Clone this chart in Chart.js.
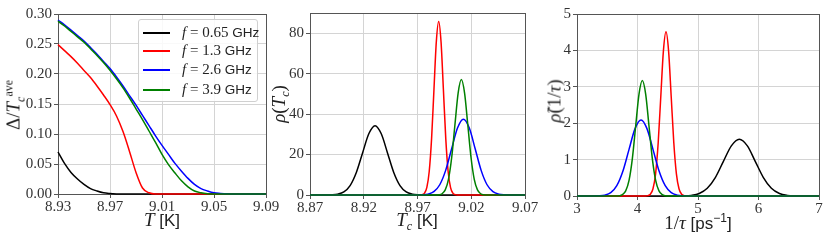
<!DOCTYPE html>
<html>
<head>
<meta charset="utf-8">
<script src="https://cdn.jsdelivr.net/npm/chart.js@4.4.1/dist/chart.umd.min.js"></script>
<style>
body{margin:0;background:#fff;width:830px;height:245px;position:relative;overflow:hidden;font-family:'Liberation Serif',serif;color:#222}
canvas{position:absolute;top:0}
.lbl{position:absolute;transform:translate(-50%,-50%);white-space:nowrap;font-size:19px;line-height:1}
.rot{transform:translate(-50%,-50%) rotate(-90deg)}
.sans{font-family:'Liberation Sans',sans-serif;font-size:17px}
sub,sup{font-size:12px;line-height:0}
.legend{position:absolute;left:138px;top:19px;width:120px;height:83px;box-sizing:border-box;border:1px solid #d0d0d0;border-radius:3px;background:rgba(255,255,255,0.85)}
.row{position:absolute;left:0;height:18px;width:118px;font-size:15px;line-height:17px}
.row b{position:absolute;left:4px;top:8px;width:27px;height:1.5px}
.row .txt{position:absolute;left:43px;top:0;white-space:nowrap;font-style:normal}
.row .sans{font-size:13.5px}
</style>
</head>
<body>
<canvas id="c1" width="280" height="245" style="left:0"></canvas>
<canvas id="c2" width="275" height="245" style="left:280px"></canvas>
<canvas id="c3" width="275" height="245" style="left:555px"></canvas>

<div class="lbl" style="left:162px;top:219px"><i>T</i> <span class="sans">[K]</span></div>
<div class="lbl rot" style="left:13px;top:105px">&Delta;/<i>T</i><sub><i>c</i></sub><sup>ave</sup></div>
<div class="lbl" style="left:417px;top:219px"><i>T</i><sub><i>c</i></sub> <span class="sans">[K]</span></div>
<div class="lbl rot" style="left:278px;top:104px"><i>&rho;</i>(<i>T</i><sub><i>c</i></sub>)</div>
<div class="lbl" style="left:698px;top:222px">1/<i>&tau;</i> <span class="sans">[ps<sup>&minus;1</sup>]</span></div>
<div class="lbl rot" style="left:554px;top:101px"><i>&rho;&#771;</i>(1/<i>&tau;</i>)</div>

<div class="legend">
  <div class="row" style="top:4px"><b style="background:#000"></b><em class="txt"><i>f</i> = 0.65 <span class="sans">GHz</span></em></div>
  <div class="row" style="top:22px"><b style="background:#f00"></b><em class="txt"><i>f</i> = 1.3 <span class="sans">GHz</span></em></div>
  <div class="row" style="top:41px"><b style="background:#00f"></b><em class="txt"><i>f</i> = 2.6 <span class="sans">GHz</span></em></div>
  <div class="row" style="top:61px"><b style="background:#008000"></b><em class="txt"><i>f</i> = 3.9 <span class="sans">GHz</span></em></div>
</div>

<script>
// panel 1: gap vs temperature
const tempK=[8.930,8.935,8.940,8.945,8.950,8.955,8.960,8.965,8.970,8.975,8.980,8.985,8.990,8.995,9.000,9.005,9.010,9.015,9.020,9.025,9.030,9.035,9.040,9.045,9.050,9.055,9.060,9.065,9.070,9.075,9.080,9.085,9.090];
const gapBlack=[0.070,0.051,0.036,0.025,0.016,0.009,0.005,0.002,0.0008,0.0002,0,0,0,0,0,0,0,0,0,0,0,0,0,0,0,0,0,0,0,0,0,0,0];
const gapRed=[0.249,0.239,0.229,0.218,0.206,0.194,0.180,0.165,0.149,0.130,0.104,0.071,0.036,0.010,0.002,0,0,0,0,0,0,0,0,0,0,0,0,0,0,0,0,0,0];
const gapBlue=[0.290,0.282,0.273,0.264,0.255,0.244,0.233,0.221,0.209,0.195,0.180,0.164,0.148,0.131,0.114,0.097,0.081,0.066,0.051,0.038,0.026,0.016,0.009,0.005,0.002,0.001,0.0003,0,0,0,0,0,0];
const gapGreen=[0.288,0.280,0.271,0.262,0.253,0.242,0.231,0.219,0.206,0.192,0.177,0.160,0.142,0.124,0.105,0.086,0.066,0.049,0.035,0.022,0.012,0.005,0.002,0.0005,0,0,0,0,0,0,0,0,0];
const p1xTicks=[8.93,8.97,9.01,9.05,9.09];
const p1yTicks=[0,0.05,0.10,0.15,0.20,0.25,0.30];

// panel 2: Tc distributions
const tcBlackX=[8.87,8.8841,8.8899,8.8957,8.9015,8.9073,8.9131,8.9189,8.9247,8.9305,8.9363,8.9421,8.9479,8.9537,8.9595,8.9653,8.9711,8.9769,9.07];
const tcBlackY=[0,0.011,0.075,0.38,1.51,4.64,11.14,20.80,30.27,34.3,30.27,20.80,11.14,4.64,1.51,0.38,0.075,0.011,0];
const tcRedX=[8.87,8.9721,8.9743,8.9765,8.9787,8.9809,8.9831,8.9853,8.9875,8.9897,8.9919,8.9941,8.9963,8.9985,9.0007,9.0029,9.0051,9.0073,9.07];
const tcRedY=[0,0.03,0.19,0.95,3.77,11.61,27.86,52.04,75.72,85.8,75.72,52.04,27.86,11.61,3.77,0.95,0.19,0.03,0];
const tcBlueX=[8.87,8.9687,8.9742,8.9797,8.9852,8.9907,8.9962,9.0017,9.0072,9.0127,9.0182,9.0237,9.0292,9.0347,9.0402,9.0457,9.0512,9.0567,9.07];
const tcBlueY=[0,0.013,0.082,0.42,1.65,5.07,12.18,22.74,33.09,37.5,33.09,22.74,12.18,5.07,1.65,0.42,0.082,0.013,0];
const tcGreenX=[8.87,8.9868,8.9898,8.9928,8.9958,8.9988,9.0018,9.0048,9.0078,9.0108,9.0138,9.0168,9.0198,9.0228,9.0258,9.0288,9.0318,9.0348,9.07];
const tcGreenY=[0,0.019,0.125,0.63,2.51,7.73,18.54,34.63,50.39,57.1,50.39,34.63,18.54,7.73,2.51,0.63,0.125,0.019,0];
const p2xTicks=[8.87,8.92,8.97,9.02,9.07];
const p2yTicks=[0,20,40,60,80];

// panel 3: scattering rate distributions
const rateBlackX=[3,4.623,4.756,4.888,5.021,5.153,5.286,5.418,5.551,5.683,5.816,5.948,6.081,6.213,6.346,6.478,6.611,6.743,7];
const rateBlackY=[0,0.0005,0.0034,0.0173,0.0685,0.211,0.507,0.946,1.377,1.56,1.377,0.946,0.507,0.211,0.0685,0.0173,0.0034,0.0005,0];
const rateRedX=[3,4.127,4.170,4.213,4.256,4.299,4.342,4.385,4.428,4.471,4.514,4.557,4.600,4.643,4.686,4.729,4.772,4.815,7];
const rateRedY=[0,0.0015,0.0099,0.050,0.198,0.610,1.464,2.735,3.98,4.51,3.98,2.735,1.464,0.610,0.198,0.050,0.0099,0.0015,0];
const rateBlueX=[3,3.258,3.358,3.458,3.558,3.658,3.758,3.858,3.958,4.058,4.158,4.258,4.358,4.458,4.558,4.658,4.758,4.858,7];
const rateBlueY=[0,0.0007,0.0046,0.0232,0.0917,0.283,0.679,1.268,1.844,2.09,1.844,1.268,0.679,0.283,0.0917,0.0232,0.0046,0.0007,0];
const rateGreenX=[3,3.640,3.695,3.750,3.805,3.860,3.915,3.970,4.025,4.080,4.135,4.190,4.245,4.300,4.355,4.410,4.465,4.520,7];
const rateGreenY=[0,0.0011,0.0069,0.035,0.139,0.429,1.029,1.923,2.798,3.17,2.798,1.923,1.029,0.429,0.139,0.035,0.0069,0.0011,0];
const p3xTicks=[3,4,5,6,7];
const p3yTicks=[0,1,2,3,4,5];

const COLORS={black:'#000000',red:'#ff0000',blue:'#0000ff',green:'#008000'};
const tickFont={family:"'Liberation Serif',serif",size:15};

const frame={id:'frame',beforeDatasetsDraw(ch){
  const a=ch.chartArea,ctx=ch.ctx;
  ctx.save();ctx.strokeStyle='#555';ctx.lineWidth=1;
  ctx.strokeRect(Math.round(a.left)+0.5,Math.round(a.top)+0.5,Math.round(a.right-a.left),Math.round(a.bottom-a.top));
  ctx.restore();
}};

function pts(xs,ys){return xs.map((x,i)=>({x,y:ys[i]}));}
function ds(data,color){
  return{data,borderColor:color,borderWidth:1.5,pointRadius:0,fill:false,cubicInterpolationMode:'monotone',clip:false};
}

function makeChart(id,sets,xr,yr,xTicks,yTicks,xfmt,yfmt,box){
  new Chart(document.getElementById(id),{
    type:'line',
    data:{datasets:sets},
    options:{
      responsive:false,animation:false,devicePixelRatio:1,
      events:[],
      layout:{padding:{left:0,right:box.right,top:box.top,bottom:box.bottom}},
      plugins:{legend:{display:false},tooltip:{enabled:false}},
      scales:{
        x:{type:'linear',min:xr[0],max:xr[1],
          afterBuildTicks:s=>{s.ticks=xTicks.map(v=>({value:v}));},
          afterFit:s=>{s.height=30;s.paddingLeft=0;s.paddingRight=0;},
          border:{display:false},
          grid:{color:'#d4d4d4',lineWidth:1,tickColor:'#555',tickLength:4},
          ticks:{font:tickFont,color:'#333',padding:0,maxRotation:0,autoSkip:false,callback:v=>xfmt(v)}},
        y:{type:'linear',min:yr[0],max:yr[1],
          afterBuildTicks:s=>{s.ticks=yTicks.map(v=>({value:v}));},
          afterFit:s=>{s.width=box.yw;s.paddingTop=0;s.paddingBottom=0;},
          border:{display:false},
          grid:{color:'#d4d4d4',lineWidth:1,tickColor:'#555',tickLength:4},
          ticks:{font:tickFont,color:'#333',padding:2,autoSkip:false,callback:v=>yfmt(v)}}
      }
    },
    plugins:[frame]
  });
}

// green listed first so it is drawn on top, as in the original
makeChart('c1',[
  ds(pts(tempK,gapGreen),COLORS.green),
  ds(pts(tempK,gapBlue),COLORS.blue),
  ds(pts(tempK,gapRed),COLORS.red),
  ds(pts(tempK,gapBlack),COLORS.black)
],[8.93,9.09],[0,0.30],p1xTicks,p1yTicks,v=>v.toFixed(2),v=>v.toFixed(2),{yw:58,right:14,top:14,bottom:21});

makeChart('c2',[
  ds(pts(tcGreenX,tcGreenY),COLORS.green),
  ds(pts(tcBlueX,tcBlueY),COLORS.blue),
  ds(pts(tcRedX,tcRedY),COLORS.red),
  ds(pts(tcBlackX,tcBlackY),COLORS.black)
],[8.87,9.07],[0,90],p2xTicks,p2yTicks,v=>v.toFixed(2),v=>String(v),{yw:30,right:30,top:13,bottom:20});

makeChart('c3',[
  ds(pts(rateGreenX,rateGreenY),COLORS.green),
  ds(pts(rateBlueX,rateBlueY),COLORS.blue),
  ds(pts(rateRedX,rateRedY),COLORS.red),
  ds(pts(rateBlackX,rateBlackY),COLORS.black)
],[3,7],[0,5],p3xTicks,p3yTicks,v=>String(v),v=>String(v),{yw:22,right:11,top:14,bottom:19});
</script>
</body>
</html>
